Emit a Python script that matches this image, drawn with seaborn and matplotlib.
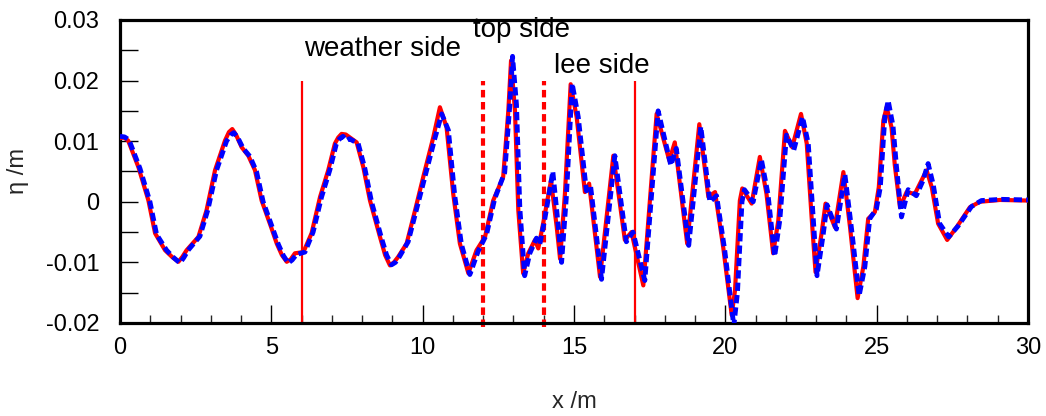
import numpy as np
import pandas as pd
import seaborn as sns
import matplotlib.pyplot as plt
from matplotlib.ticker import MultipleLocator

# Courbe rouge (trait plein)
x_red = [0.00, 0.13, 0.27, 0.61, 0.94, 1.16, 1.49, 1.72, 1.93, 2.06, 2.20, 2.59, 2.86, 3.14, 3.47,
         3.60, 3.71, 3.84, 4.02, 4.24, 4.46, 4.68, 4.98, 5.18, 5.35, 5.51, 5.64, 5.78, 6.06, 6.33,
         6.61, 6.88, 7.10, 7.21, 7.32, 7.46, 7.60, 7.82, 8.04, 8.26, 8.59, 8.76, 8.92, 9.05, 9.19,
         9.47, 9.75, 10.02, 10.35, 10.57, 10.79, 11.01, 11.23, 11.51, 11.78,
         12.06, 12.33, 12.66, 12.83, 12.92, 13.05, 13.16, 13.32, 13.49, 13.71, 13.82, 13.98, 14.24,
         14.43, 14.54, 14.70, 14.89, 15.09, 15.36, 15.50, 15.86, 16.30, 16.68, 16.90, 17.29, 17.73,
         18.15, 18.33, 18.74, 19.14, 19.44, 19.66, 19.93, 20.21, 20.32, 20.48, 20.56, 20.87, 21.14,
         21.36, 21.58, 21.75, 21.97, 22.21, 22.50, 22.69, 22.85, 22.98, 23.18, 23.31, 23.62, 23.90,
         24.12, 24.37, 24.56, 24.72, 24.94, 25.07, 25.22, 25.33, 25.49, 25.60, 25.77, 25.99, 26.26,
         26.48, 26.65, 26.82, 27.03, 27.33, 27.64, 28.08, 28.41, 29.07, 30.00]
y_red = [0.0105, 0.0106, 0.0101, 0.0057, 0.0002, -0.0052, -0.0080, -0.0091, -0.0099, -0.0091,
         -0.0080, -0.0058, -0.0014, 0.0052, 0.0101, 0.0115, 0.0120, 0.0110, 0.0090, 0.0076,
         0.0052, 0.0002, -0.0040, -0.0069, -0.0088, -0.0099, -0.0095, -0.0085, -0.0083, -0.0052,
         0.0008, 0.0052, 0.0096, 0.0106, 0.0112, 0.0111, 0.0106, 0.0098, 0.0057, 0.0002,
         -0.0058, -0.0088, -0.0105, -0.0100, -0.0091,
         -0.0069, -0.0014, 0.0041, 0.0106, 0.0156, 0.0123,
         0.0013, -0.0069, -0.0118, -0.0080, -0.0058, 0.0002, 0.0041, 0.0150, 0.0233, 0.0150,
         -0.0014, -0.0118, -0.0085, -0.0063, -0.0077, -0.0036, 0.0035, -0.0042, -0.0094, 0.0013,
         0.0194, 0.0139, 0.0016, 0.0030, -0.0124, 0.0076, -0.0063, -0.0050, -0.0138, 0.0145,
         0.0068, 0.0098, -0.0069, 0.0128, 0.0008, 0.0016, -0.0075, -0.0187, -0.0146, 0.0002,
         0.0022, -0.0003, 0.0074, 0.0013, -0.0085, -0.0031, 0.0117, 0.0090, 0.0145, 0.0096,
         -0.0025, -0.0116, -0.0052, -0.0003, -0.0042, 0.0049, -0.0042, -0.0159, -0.0107, -0.0028,
         -0.0017, 0.0024, 0.0134, 0.0156, 0.0123, 0.0060, -0.0009, 0.0016, 0.0013, 0.0035,
         0.0052, 0.0024, -0.0036, -0.0063, -0.0042, -0.0009, 0.0000, 0.0003, 0.0002]

# Courbe bleue (pointillés)
x_blue = [0.00, 0.15, 0.30, 0.66, 0.99, 1.21, 1.54, 1.77, 1.98, 2.11, 2.25, 2.64, 2.91, 3.19, 3.52,
          3.65, 3.76, 3.89, 4.07, 4.29, 4.51, 4.73, 5.03, 5.23, 5.40, 5.56, 5.69, 5.83, 6.11, 6.38,
          6.66, 6.93, 7.15, 7.26, 7.37, 7.48, 7.58, 7.87, 8.09, 8.31, 8.64, 8.81, 8.97, 9.10, 9.24,
          9.52, 9.80, 10.07, 10.40, 10.63, 10.85, 11.06, 11.28, 11.56, 11.83,
          12.11, 12.38, 12.71, 12.88, 12.97, 13.10, 13.21, 13.37, 13.54, 13.76, 13.87, 14.03, 14.30,
          14.48, 14.59, 14.75, 14.94, 15.14, 15.41, 15.55, 15.91, 16.35, 16.73, 16.95, 17.34, 17.78,
          18.20, 18.38, 18.79, 19.19, 19.49, 19.71, 19.98, 20.28, 20.40, 20.55, 20.63, 20.92, 21.19,
          21.41, 21.63, 21.80, 22.02, 22.26, 22.55, 22.74, 22.90, 23.03, 23.23, 23.36, 23.67, 23.95,
          24.17, 24.42, 24.61, 24.77, 24.99, 25.12, 25.27, 25.38, 25.54, 25.65, 25.82, 26.04, 26.31,
          26.53, 26.70, 26.87, 27.08, 27.38, 27.69, 28.13, 28.46, 29.12, 30.00]
y_blue = [0.0108, 0.0107, 0.0102, 0.0055, 0.0000, -0.0054, -0.0080, -0.0092, -0.0101, -0.0092,
          -0.0080, -0.0057, -0.0012, 0.0052, 0.0100, 0.0110, 0.0114, 0.0106, 0.0088, 0.0075,
          0.0050, 0.0000, -0.0042, -0.0070, -0.0089, -0.0101, -0.0096, -0.0087, -0.0083, -0.0050,
          0.0008, 0.0052, 0.0096, 0.0104, 0.0108, 0.0101, 0.0104, 0.0096, 0.0055, 0.0000,
          -0.0060, -0.0088, -0.0104, -0.0100, -0.0090,
          -0.0066, -0.0012, 0.0040, 0.0104, 0.0145, 0.0118,
          0.0010, -0.0070, -0.0120, -0.0082, -0.0054, 0.0005, 0.0048, 0.0160, 0.0240, 0.0160,
          -0.0010, -0.0122, -0.0085, -0.0060, -0.0070, -0.0030, 0.0050, -0.0040, -0.0100, 0.0010,
          0.0195, 0.0140, 0.0018, 0.0025, -0.0128, 0.0076, -0.0066, -0.0050, -0.0130, 0.0150,
          0.0060, 0.0088, -0.0072, 0.0124, 0.0000, 0.0010, -0.0080, -0.0205, -0.0150, 0.0000,
          0.0020, 0.0000, 0.0070, 0.0012, -0.0090, -0.0030, 0.0110, 0.0085, 0.0140, 0.0096,
          -0.0025, -0.0122, -0.0055, -0.0005, -0.0045, 0.0045, -0.0045, -0.0155, -0.0107, -0.0028,
          -0.0012, 0.0024, 0.0140, 0.0167, 0.0125, 0.0060, -0.0025, 0.0020, 0.0010, 0.0035,
          0.0063, 0.0028, -0.0036, -0.0058, -0.0040, -0.0008, 0.0002, 0.0004, 0.0003]

# Lignes verticales : limites des zones
vline_solid_x = [6, 17]
vline_dashed_x = [12, 14]

labels_txt = ['weather side', 'top side', 'lee side']
labels_x = [6.08, 11.65, 14.35]
labels_y = [0.0241, 0.0272, 0.0213]

x_ticks = [0, 5, 10, 15, 20, 25, 30]
y_ticks = [-0.02, -0.01, 0, 0.01, 0.02, 0.03]
y_ticklabels = ['-0.02', '-0.01', '0', '0.01', '0.02', '0.03']

sns.set_theme(style='white')
plt.rcParams['font.family'] = ['Liberation Sans', 'DejaVu Sans']

fig = plt.figure(figsize=(10.46, 4.16), dpi=100)
ax = fig.add_axes([0.1147, 0.2236, 0.8681, 0.7284])

df_red = pd.DataFrame({'x': x_red, 'y': y_red})
df_blue = pd.DataFrame({'x': x_blue, 'y': y_blue})

sns.lineplot(data=df_red, x='x', y='y', color='red', linewidth=3.0, ax=ax, sort=False, zorder=3)
ax.lines[-1].set_solid_joinstyle('round')
sns.lineplot(data=df_blue, x='x', y='y', color='blue', linewidth=3.5, ax=ax, sort=False, zorder=4)
ax.lines[-1].set_dashes((1.7, 0.85))

ax.vlines(vline_solid_x, -0.02, 0.02, colors='red', linewidth=1.6, zorder=2)
ax.vlines(vline_dashed_x, -0.0207, 0.02, colors='red', linewidth=3.0,
          linestyles=(0, (1.8, 1.1)), zorder=2, clip_on=False)

for t, tx, ty in zip(labels_txt, labels_x, labels_y):
    ax.text(tx, ty, t, fontsize=20, va='baseline', ha='left', color='black')

ax.set_xlim(0, 30)
ax.set_ylim(-0.02, 0.03)
ax.set_xticks(x_ticks)
ax.set_xticklabels([str(v) for v in x_ticks])
ax.xaxis.set_minor_locator(MultipleLocator(1))
ax.set_yticks(y_ticks)
ax.set_yticklabels(y_ticklabels)
ax.yaxis.set_minor_locator(MultipleLocator(0.005))

ax.tick_params(axis='x', which='major', direction='in', length=13, width=1, pad=10,
               labelsize=17, colors='black', bottom=True)
ax.tick_params(axis='x', which='minor', direction='in', length=6, width=1, bottom=True)
ax.tick_params(axis='y', which='both', direction='in', length=13, width=1, pad=15,
               labelsize=17, colors='black', left=True)

for s in ax.spines.values():
    s.set_linewidth(2.3)
    s.set_color('black')

ax.set_xlabel('x /m', fontsize=17, va='center')
ax.set_ylabel('η /m', fontsize=17, va='center')
ax.xaxis.set_label_coords(0.5, -0.26)
ax.yaxis.set_label_coords(-0.112, 0.5)
ax.grid(False)

fig.savefig('out.png', dpi=100)
